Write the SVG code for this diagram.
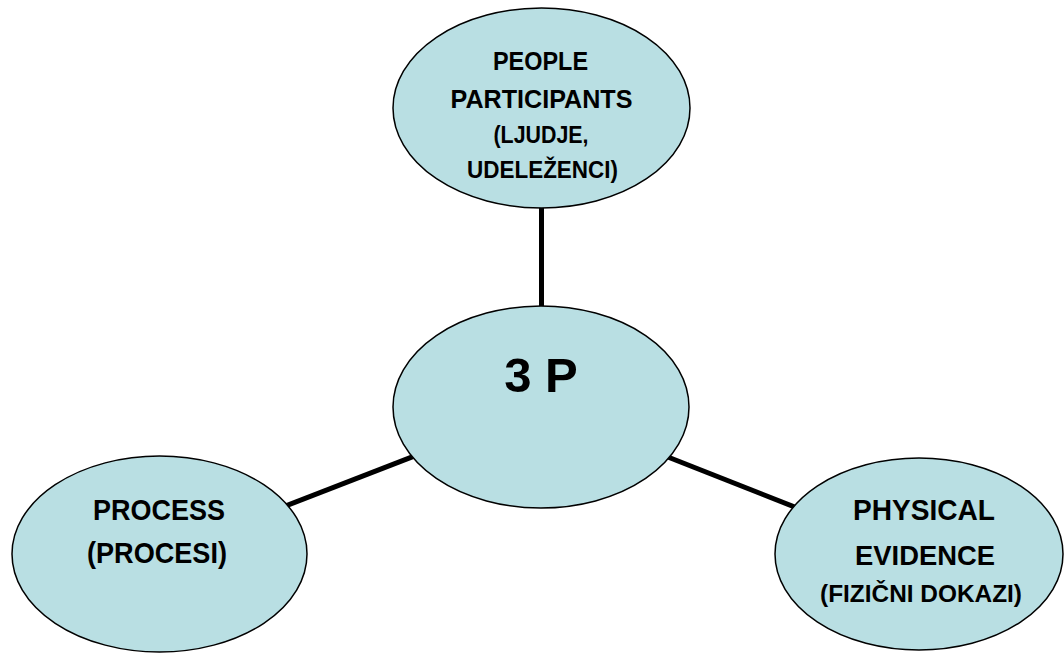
<svg xmlns="http://www.w3.org/2000/svg" width="1064" height="655" viewBox="0 0 1064 655">
  <style>
    .node { fill: #b9dfe3; stroke: #000; stroke-width: 1.5; }
    .edge { stroke: #000; stroke-width: 5; fill: none; }
    text { font-family: "Liberation Sans", Arial, sans-serif; font-weight: bold; fill: #000; text-anchor: middle; }
  </style>
  <rect width="1064" height="655" fill="#fff"/>
  <g id="connectors">
    <line class="edge" x1="541.5" y1="407" x2="541.5" y2="108"/>
    <line class="edge" x1="541" y1="407" x2="159" y2="555"/>
    <line class="edge" x1="541" y1="407" x2="919" y2="556"/>
  </g>
  <g id="node-people">
    <ellipse class="node" cx="541.5" cy="108" rx="148.5" ry="100"/>
    <text x="540.5" y="70" font-size="25" textLength="95" lengthAdjust="spacingAndGlyphs">PEOPLE</text>
    <text x="541.5" y="108" font-size="25" textLength="182" lengthAdjust="spacingAndGlyphs">PARTICIPANTS</text>
    <text x="541" y="143" font-size="24" textLength="95" lengthAdjust="spacingAndGlyphs">(LJUDJE,</text>
    <text x="542.5" y="178" font-size="24" textLength="151" lengthAdjust="spacingAndGlyphs">UDELEŽENCI)</text>
  </g>
  <g id="node-3p">
    <ellipse class="node" cx="541" cy="407" rx="148" ry="101"/>
    <text x="541" y="392" font-size="49">3 P</text>
  </g>
  <g id="node-process">
    <ellipse class="node" cx="159.5" cy="554" rx="147.5" ry="98"/>
    <text x="159" y="520" font-size="30" textLength="132" lengthAdjust="spacingAndGlyphs">PROCESS</text>
    <text x="157" y="563" font-size="30" textLength="140" lengthAdjust="spacingAndGlyphs">(PROCESI)</text>
  </g>
  <g id="node-physical">
    <ellipse class="node" cx="919" cy="554" rx="144" ry="96"/>
    <text x="924" y="520" font-size="30" textLength="142" lengthAdjust="spacingAndGlyphs">PHYSICAL</text>
    <text x="925" y="565" font-size="28" textLength="140" lengthAdjust="spacingAndGlyphs">EVIDENCE</text>
    <text x="921" y="602" font-size="24" textLength="202" lengthAdjust="spacingAndGlyphs">(FIZIČNI DOKAZI)</text>
  </g>
</svg>
